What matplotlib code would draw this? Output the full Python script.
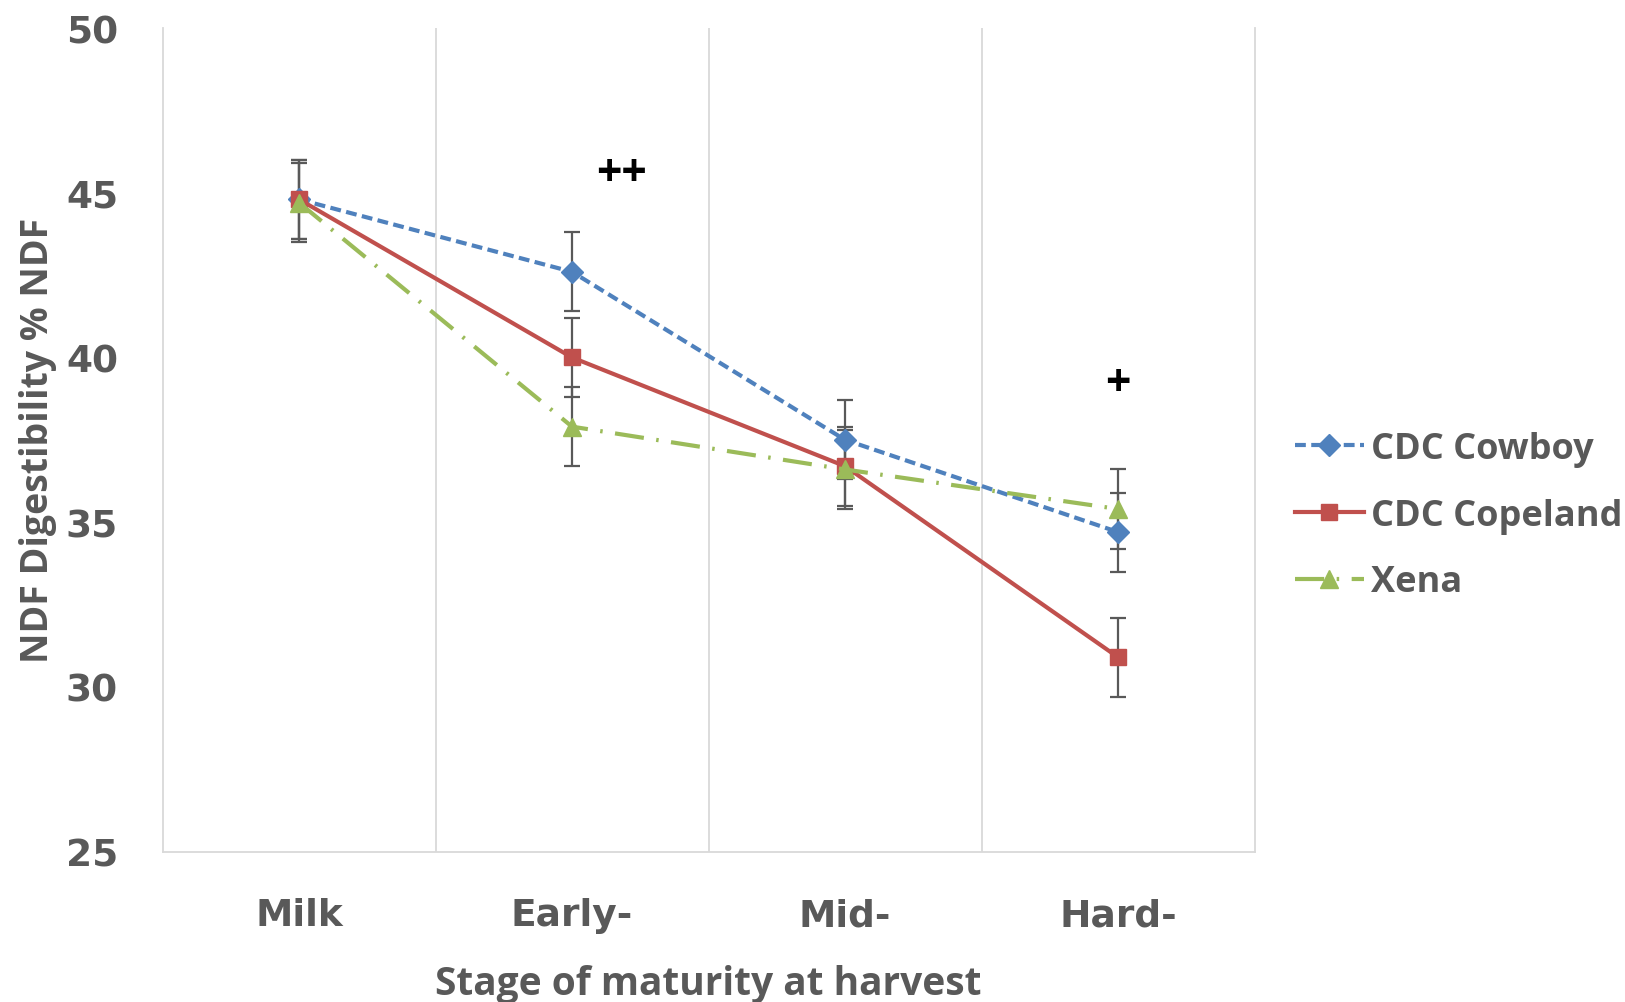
import matplotlib
matplotlib.use("Agg")
import matplotlib.pyplot as plt
from matplotlib.lines import Line2D
import numpy as np

categories = ["Milk", "Early-", "Mid-", "Hard-"]
cowboy = [44.8, 42.6, 37.5, 34.7]
copeland = [44.8, 40.0, 36.7, 30.9]
xena = [44.7, 37.9, 36.6, 35.4]
cowboy_err = [1.2, 1.2, 1.2, 1.2]
copeland_err = [1.2, 1.2, 1.2, 1.2]
xena_err = [1.2, 1.2, 1.2, 1.2]
yticks = [25, 30, 35, 40, 45, 50]

plt.rcParams['font.family'] = ['Open Sans', 'DejaVu Sans']
txt = '#595959'

fig = plt.figure(figsize=(16.25, 10.03), dpi=100)
ax = fig.add_axes([0.100, 0.150, 0.672, 0.821])

x = np.arange(len(categories))
styles = [
    (cowboy, cowboy_err, '#4F81BD', (0, (2.6, 1.3)), 'D', 11, 'CDC Cowboy'),
    (copeland, copeland_err, '#C0504D', '-', 's', 12, 'CDC Copeland'),
    (xena, xena_err, '#9BBB59', (0, (7, 3, 0.6, 3)), '^', 13, 'Xena'),
]
handles = []
for vals, err, col, ls, mk, ms, lab in styles:
    ax.errorbar(x, vals, yerr=err, color=col, ls=ls, marker=mk, ms=ms,
                elinewidth=1.6, ecolor='#595959', capsize=6, capthick=1.6, lw=3.0, zorder=3)
    handles.append(Line2D([], [], color=col, ls=ls, marker=mk, ms=ms, lw=3.0, label=lab))

ax.text(1.18, 45.6, '++', ha='center', va='center', fontsize=32, fontweight='bold', color='black')
ax.text(3.0, 39.2, '+', ha='center', va='center', fontsize=32, fontweight='bold', color='black')

ax.set_xlim(-0.5, 3.5)
ax.set_ylim(25, 50)
ax.set_yticks(yticks)
ax.set_xticks(x)
ax.set_xticklabels(categories)
ax.set_xticks([0.5, 1.5, 2.5], minor=True)
ax.grid(True, which='minor', axis='x', color='#D9D9D9', lw=1.3)
ax.tick_params(axis='both', which='both', length=0, labelcolor=txt)
ax.tick_params(axis='y', labelsize=27, pad=32)
ax.tick_params(axis='x', labelsize=27, pad=33)
for lab in ax.get_xticklabels() + ax.get_yticklabels():
    lab.set_fontweight('bold')
    lab.set_family(['DejaVu Sans'])
ax.spines['top'].set_visible(False)
for s in ['left', 'bottom', 'right']:
    ax.spines[s].set_color('#D9D9D9')
    ax.spines[s].set_linewidth(1.3)

ax.set_xlabel('Stage of maturity at harvest', fontsize=28, fontweight='bold', color=txt)
ax.xaxis.set_label_coords(0.5, -0.137)
ax.set_ylabel('NDF Digestibility % NDF', fontsize=27, fontweight='bold', color=txt)
ax.yaxis.set_label_coords(-0.097, 0.5)

leg = fig.legend(handles=handles, loc='center left', bbox_to_anchor=(0.777, 0.485), frameon=False,
                 fontsize=26, handlelength=1.9, labelspacing=0.85, handletextpad=0.2)
for t in leg.get_texts():
    t.set_color(txt)
    t.set_fontweight('bold')

fig.savefig('out.png', dpi=100)
